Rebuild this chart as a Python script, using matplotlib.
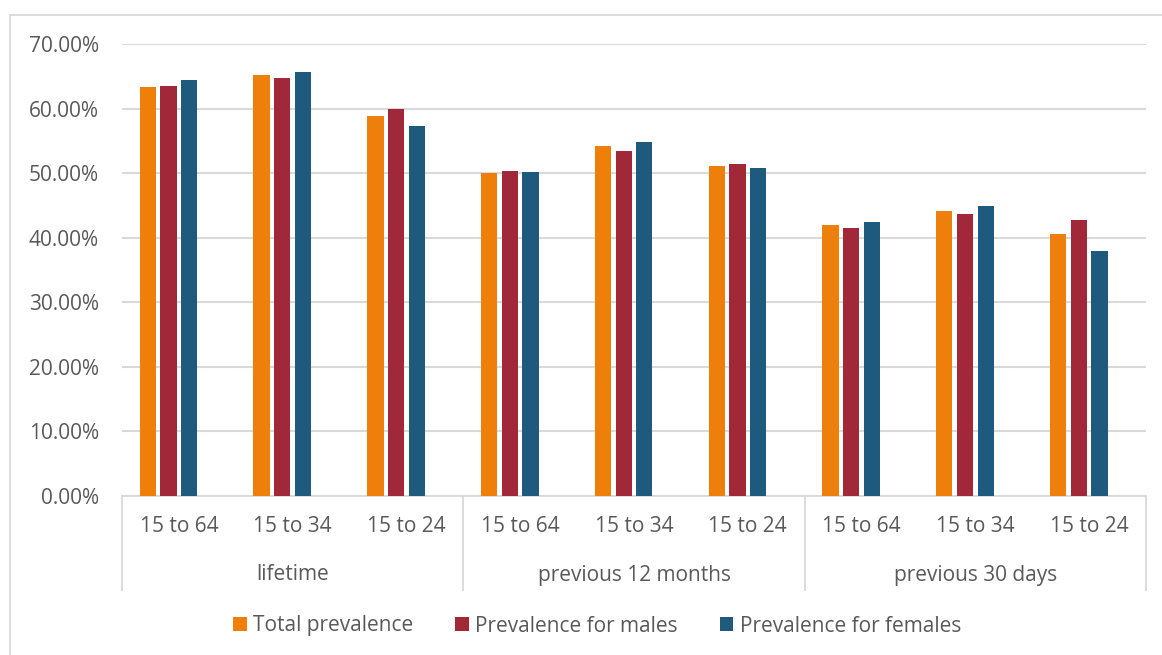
import numpy as np
import matplotlib
matplotlib.use('Agg')
import matplotlib.pyplot as plt
from matplotlib.patches import Rectangle
from matplotlib.ticker import FuncFormatter

plt.rcParams.update({'font.family': ['Open Sans', 'DejaVu Sans']})

periods = ['lifetime', 'previous 12 months', 'previous 30 days']
ages = ['15 to 64', '15 to 34', '15 to 24']
series = ['Total prevalence', 'Prevalence for males', 'Prevalence for females']
total = [63.4, 65.2, 58.8, 50.0, 54.2, 51.1, 42.0, 44.2, 40.5]
males = [63.5, 64.7, 59.9, 50.3, 53.5, 51.4, 41.5, 43.6, 42.7]
females = [64.4, 65.6, 57.3, 50.1, 54.9, 50.8, 42.5, 44.9, 37.9]
colors = ['#EF7F0B', '#A02838', '#1D5A7D']

TXT = '#595959'
GRID = '#D9D9D9'
FS = 15

fig = plt.figure(figsize=(11.62, 6.55), dpi=100)
fig.patches.append(Rectangle((10 / 1162, -0.01), 1.2, 1 - 15 / 655 + 0.01, transform=fig.transFigure,
                             fill=False, edgecolor=GRID, lw=1.3))
ax = fig.add_axes([122 / 1162, 1 - 496 / 655, (1146 - 122) / 1162, (496 - 44) / 655])

x = np.arange(len(total))
w = 0.143
step = 0.182
# bars sit left of the category centre (room for an empty fourth slot, as in the source)
for i, (vals, c, lab) in enumerate(zip([total, males, females], colors, series)):
    ax.bar(x + (i - 1.5) * step, np.array(vals) / 100, width=w, color=c, label=lab, zorder=3)

ax.set_xlim(-0.5, len(total) - 0.5)
ax.set_ylim(0, 0.70)
ax.set_yticks(np.arange(0, 0.71, 0.10))
ax.yaxis.set_major_formatter(FuncFormatter(lambda v, p: f'{v * 100:.2f}%'))
ax.tick_params(axis='y', length=0, labelsize=FS, labelcolor=TXT, pad=16.5)
ax.grid(axis='y', color=GRID, lw=1.5, zorder=0)
for s in ['top', 'right', 'left']:
    ax.spines[s].set_visible(False)
ax.spines['bottom'].set_color(GRID)
ax.spines['bottom'].set_linewidth(1.3)
ax.set_xticks([])

# multi-level category axis
tr = ax.get_xaxis_transform()
sep_bottom = -(590 - 496) / 452
for b in [-0.5, 2.5, 5.5, 8.5]:
    ax.plot([b, b], [0, sep_bottom], transform=tr, color=GRID, lw=1.3, clip_on=False)
for i in range(len(total)):
    ax.text(i, -(527 - 496) / 452, ages[i % 3], transform=tr, ha='center', va='center',
            fontsize=FS, color=TXT)
for j, p in enumerate(periods):
    ax.text(3 * j + 1, -(575 - 496) / 452, p, transform=tr, ha='center', va='center',
            fontsize=FS, color=TXT)

leg = fig.legend(loc='center', bbox_to_anchor=(597 / 1162, 1 - 626 / 655), ncol=3, frameon=False,
                 fontsize=FS, handlelength=0.67, handleheight=0.67, handletextpad=0.3,
                 columnspacing=2.0)
for t in leg.get_texts():
    t.set_color(TXT)

fig.savefig('out.png', dpi=100)
